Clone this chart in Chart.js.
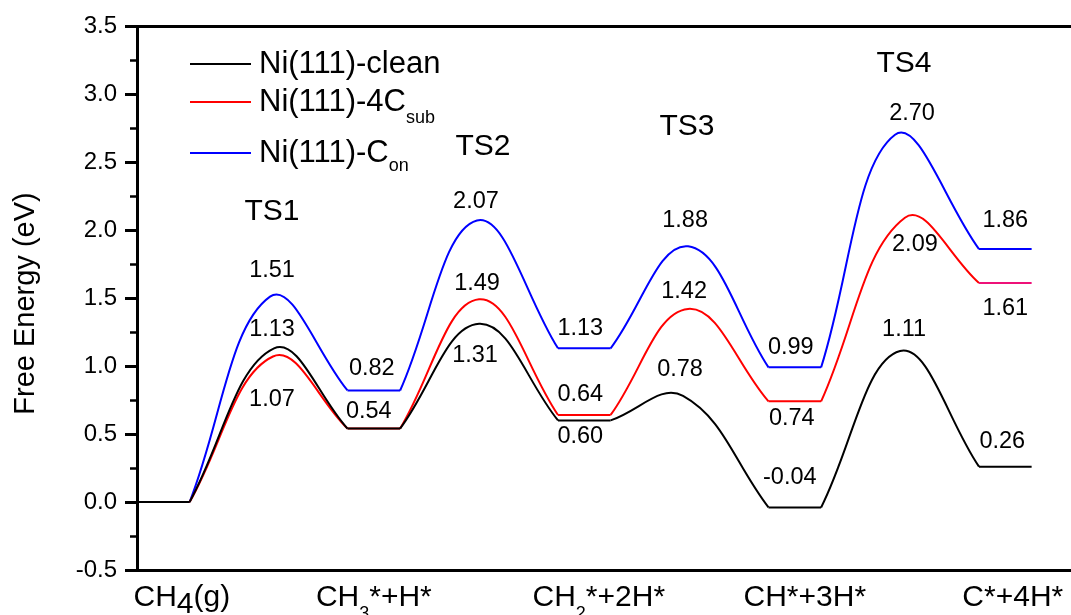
<!DOCTYPE html>
<html>
<head>
<meta charset="utf-8">
<title>Free energy profile</title>
<script src="https://cdn.jsdelivr.net/npm/chart.js@4.4.1/dist/chart.umd.min.js"></script>
<style>
  html, body { margin: 0; padding: 0; background: #fff; }
  #wrap { width: 1071px; height: 615px; }
</style>
</head>
<body>
<div id="wrap"><canvas id="profile" width="1071" height="615"></canvas></div>
<script>
"use strict";

const FONT = '"Liberation Sans", Arial, Helvetica, sans-serif';

// States along the reaction coordinate, and the transition states between them
const STATES = ["CH4(g)", "CH3*+H*", "CH2*+2H*", "CH*+3H*", "C*+4H*"];
const TS_NAMES = ["TS1", "TS2", "TS3", "TS4"];

// Free energies (eV)
const cleanLevels = [0, 0.54, 0.60, -0.04, 0.26];
const cleanTS     = [1.13, 1.31, 0.78, 1.11];
const subLevels   = [0, 0.54, 0.64, 0.74, 1.61];
const subTS       = [1.07, 1.49, 1.42, 2.09];
const onLevels    = [0, 0.82, 1.13, 0.99, 1.86];
const onTS        = [1.51, 2.07, 1.88, 2.70];

// Reaction coordinate of each TS; state i is a plateau on [i, i + PLATEAU]
const cleanTSAt = [0.651, 1.625, 2.594, 3.625];
const subTSAt   = [0.646, 1.625, 2.618, 3.648];
const onTSAt    = [0.632, 1.615, 2.618, 3.601];
const PLATEAU = 0.25;

const Y_MIN = -0.5, Y_MAX = 3.5, Y_STEP = 0.5;

const SERIES = [
  { name: "Ni(111)-clean", sub: "",    color: "#000000", levels: cleanLevels, ts: cleanTS, tsAt: cleanTSAt },
  { name: "Ni(111)-4C",    sub: "sub", color: "#ff0000", levels: subLevels,   ts: subTS,   tsAt: subTSAt, tail: "#ee1178" },
  { name: "Ni(111)-C",     sub: "on",  color: "#0000ff", levels: onLevels,    ts: onTS,    tsAt: onTSAt },
];

// label nudges in px from the mark: [dx, baseline dy]
const VALUE_OFFSETS = [
  { levels: [null, [-5, -11], [-4, 23], [-5, -23], [-3, -19]], ts: [[-2, -12], [-4, 38], [-3, -20], [4, -15]] },
  { levels: [null, null, [-4, -14], [-3, 24], [0, 32]],        ts: [[-1, 50], [-2, -9], [-4, -11], [10, 33]] },
  { levels: [null, [-2, -15], [-4, -13], [-4, -13], [0, -22]], ts: [[2, -20], [-1, -12], [-3, -19], [17, -15]] },
];
// TS name placement: [dx from barrier middle, height in eV]
const TS_LABEL_POS = [[3.4, 2.074], [3.9, 2.551], [-2.6, 2.699], [3.9, 3.162]];
const STATE_DX = [18.5, 0, 14.5, 10, 7.5];

function levelPoints(levels) {
  const pts = [];
  levels.forEach((v, i) => {
    pts.push({ x: i, y: v }, { x: i + PLATEAU, y: v }, { x: i + 0.5, y: null });
  });
  return pts;
}

function barrierPoints(levels, ts, tsAt) {
  const pts = [];
  ts.forEach((v, i) => {
    pts.push(
      { x: i + PLATEAU, y: levels[i] },
      { x: tsAt[i], y: v },
      { x: i + 1, y: levels[i + 1] },
      { x: i + 1.1, y: null }
    );
  });
  return pts;
}

const datasets = [];
SERIES.forEach((s) => {
  const lastFlat = (s.levels.length - 1) * 3;
  datasets.push({
    label: s.name,
    data: levelPoints(s.levels),
    borderColor: s.color,
    borderWidth: 2,
    pointRadius: 0,
    tension: 0,
    spanGaps: false,
    segment: s.tail ? { borderColor: (c) => (c.p0DataIndex === lastFlat ? s.tail : undefined) } : undefined,
  });
  datasets.push({
    label: s.name + " barriers",
    data: barrierPoints(s.levels, s.ts, s.tsAt),
    borderColor: s.color,
    borderWidth: 2,
    pointRadius: 0,
    tension: 0.4,
    spanGaps: false,
  });
});

// draw a run list [[text, size, dy], ...] starting at x
function drawRuns(ctx, runs, x, y) {
  runs.forEach(([t, size, dy]) => {
    ctx.font = `${size}px ${FONT}`;
    ctx.fillText(t, x, y + dy);
    x += ctx.measureText(t).width;
  });
}
function runsWidth(ctx, runs) {
  return runs.reduce((w, [t, size]) => {
    ctx.font = `${size}px ${FONT}`;
    return w + ctx.measureText(t).width;
  }, 0);
}
function stateRuns(label) {
  const m = label.match(/^CH(\d)(.*)$/);
  if (!m) return [[label, 30, 0]];
  if (m[1] === "4") return [["CH", 30, 0], [m[1], 30, 7], [m[2], 30, 0]];
  return [["CH", 30, 0], [m[1], 18, 13], [m[2], 30, 0]];
}

const annotate = {
  id: "annotate",
  afterDatasetsDraw(chart) {
    const { ctx, chartArea } = chart;
    const x = chart.scales.x, y = chart.scales.y;
    ctx.save();
    ctx.fillStyle = "#000";
    ctx.textBaseline = "alphabetic";

    // energy values
    ctx.textAlign = "center";
    ctx.font = `23.5px ${FONT}`;
    SERIES.forEach((s, k) => {
      const off = VALUE_OFFSETS[k];
      s.levels.forEach((v, i) => {
        const o = off.levels[i];
        if (!o) return;
        ctx.fillText(v.toFixed(2), x.getPixelForValue(i + PLATEAU / 2) + o[0], y.getPixelForValue(v) + o[1]);
      });
      s.ts.forEach((v, i) => {
        const o = off.ts[i];
        ctx.fillText(v.toFixed(2), x.getPixelForValue(s.tsAt[i]) + o[0], y.getPixelForValue(v) + o[1]);
      });
    });

    // TS names
    ctx.font = `30px ${FONT}`;
    TS_NAMES.forEach((t, i) => {
      const [dx, e] = TS_LABEL_POS[i];
      ctx.fillText(t, x.getPixelForValue(i + 0.625) + dx, y.getPixelForValue(e));
    });

    // state names under the axis
    ctx.textAlign = "left";
    STATES.forEach((label, i) => {
      const runs = stateRuns(label);
      const cx = x.getPixelForValue(i + PLATEAU / 2) + STATE_DX[i];
      drawRuns(ctx, runs, cx - runsWidth(ctx, runs) / 2, chartArea.bottom + 36);
    });

    // legend
    const rows = [[64, 73, 12], [102, 111, 12], [153, 162, 9]];
    SERIES.forEach((s, k) => {
      const [ly, by, sdy] = rows[k];
      ctx.strokeStyle = s.color;
      ctx.lineWidth = 2;
      ctx.beginPath();
      ctx.moveTo(190, ly);
      ctx.lineTo(251, ly);
      ctx.stroke();
      const runs = [[s.name, 31, 0]];
      if (s.sub) runs.push([s.sub, 18, sdy]);
      drawRuns(ctx, runs, 259, by);
    });

    // y title
    ctx.translate(34, 303.5);
    ctx.rotate(-Math.PI / 2);
    ctx.textAlign = "center";
    ctx.font = `29px ${FONT}`;
    ctx.fillText("Free Energy (eV)", 0, 0);
    ctx.restore();
  },
};

new Chart(document.getElementById("profile"), {
  type: "line",
  data: { datasets },
  plugins: [annotate],
  options: {
    responsive: false,
    animation: false,
    devicePixelRatio: 1,
    layout: { padding: 0 },
    plugins: { legend: { display: false }, tooltip: { enabled: false } },
    scales: {
      x: {
        type: "linear",
        position: "bottom",
        min: 0,
        max: 934 / 210.5,
        grid: { display: false },
        border: { display: true, color: "#000", width: 3 },
        ticks: { display: false },
        afterFit: (s) => { s.height = 45; },
      },
      x2: {
        type: "linear",
        position: "top",
        min: 0,
        max: 1,
        grid: { display: false },
        border: { display: true, color: "#000", width: 3 },
        ticks: { display: false },
        afterFit: (s) => { s.height = 26; },
      },
      y: {
        type: "linear",
        position: "left",
        weight: 1,
        min: Y_MIN,
        max: Y_MAX,
        ticks: {
          stepSize: Y_STEP,
          color: "#000",
          padding: 8,
          font: { family: FONT, size: 24 },
          callback: (v) => v.toFixed(1),
        },
        grid: { drawOnChartArea: false, drawTicks: true, tickLength: 12, tickWidth: 3, tickColor: "#000" },
        border: { display: true, color: "#000", width: 3 },
        afterFit: (s) => { s.width = 137; },
      },
      yMinor: {
        type: "linear",
        position: "left",
        weight: 0,
        min: Y_MIN,
        max: Y_MAX,
        ticks: { display: false, stepSize: Y_STEP / 2 },
        grid: { drawOnChartArea: false, drawTicks: true, tickLength: 7, tickWidth: 2.5, tickColor: "#000" },
        border: { display: false },
        afterFit: (s) => { s.width = 0; },
      },
    },
  },
});
</script>
</body>
</html>
